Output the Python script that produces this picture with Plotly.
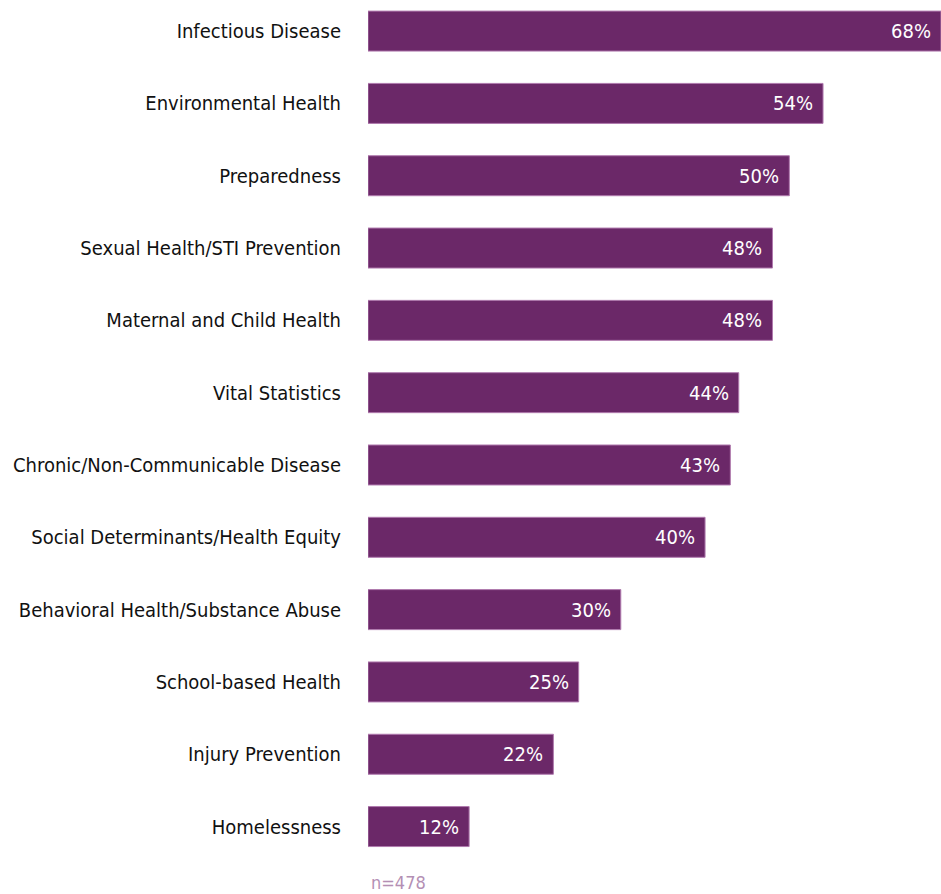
import plotly.graph_objects as go

categories = [
    "Infectious Disease",
    "Environmental Health",
    "Preparedness",
    "Sexual Health/STI Prevention",
    "Maternal and Child Health",
    "Vital Statistics",
    "Chronic/Non-Communicable Disease",
    "Social Determinants/Health Equity",
    "Behavioral Health/Substance Abuse",
    "School-based Health",
    "Injury Prevention",
    "Homelessness",
]
percent = [68, 54, 50, 48, 48, 44, 43, 40, 30, 25, 22, 12]
sample_note = "n=478"

BAR = "#6B2868"
EDGE = "#B07AAE"
FONT = "DejaVu Sans Condensed, DejaVu Sans"

fig = go.Figure(
    go.Bar(
        x=percent,
        y=categories,
        orientation="h",
        marker=dict(color=BAR, line=dict(color=EDGE, width=1)),
        hoverinfo="skip",
    )
)

# value labels sitting inside the right end of each bar
for cat, val in zip(categories, percent):
    fig.add_annotation(
        x=val, y=cat, xref="x", yref="y",
        text=f"{val}%", showarrow=False,
        xanchor="right", yanchor="middle", xshift=-8,
        font=dict(family=FONT, size=20, color="white"),
    )

fig.add_annotation(
    x=0, y=-0.024, xref="x", yref="paper",
    text=sample_note, showarrow=False,
    xanchor="left", yanchor="middle", xshift=1,
    font=dict(family=FONT, size=18, color="#B48FB4"),
)

fig.update_layout(
    width=941, height=894,
    margin=dict(l=368, r=0, t=0, b=32),
    paper_bgcolor="white", plot_bgcolor="white",
    bargap=0.447,
    showlegend=False,
    xaxis=dict(range=[0, 68], visible=False, fixedrange=True),
    yaxis=dict(
        type="category",
        categoryorder="array", categoryarray=categories,
        range=[11.49, -0.43],
        automargin=False,
        showgrid=False, zeroline=False, showline=False,
        ticks="outside", ticklen=22, tickcolor="rgba(0,0,0,0)",
        tickfont=dict(family=FONT, size=20, color="#111111"),
    ),
)

fig.write_html("out.html")
